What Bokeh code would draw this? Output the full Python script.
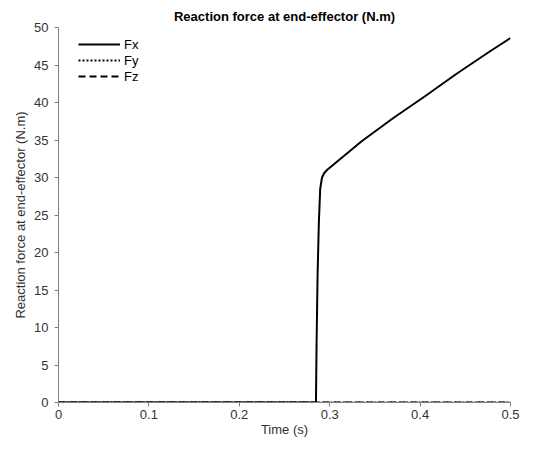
from bokeh.plotting import figure
from bokeh.models import Range1d, FixedTicker, Legend, LegendItem
from bokeh.embed import file_html
from bokeh.resources import INLINE

# Data
time_fx = [0.0, 0.2848, 0.2855, 0.2866, 0.2880, 0.2895, 0.2915, 0.2940, 0.2970,
           0.300, 0.335, 0.370, 0.405, 0.440, 0.477, 0.500]
fx = [0.0, 0.0, 8.0, 17.0, 24.0, 28.5, 30.0, 30.6, 31.0,
      31.3, 34.8, 37.9, 40.8, 43.8, 46.8, 48.6]
time_fy = [0.0, 0.5]
fy = [0.0, 0.0]
time_fz = [0.0, 0.5]
fz = [0.0, 0.0]

x_ticks = [0, 0.1, 0.2, 0.3, 0.4, 0.5]
x_tick_labels = ["0", "0.1", "0.2", "0.3", "0.4", "0.5"]
y_ticks = [0, 5, 10, 15, 20, 25, 30, 35, 40, 45, 50]

title_text = "Reaction force at end-effector (N.m)"
x_label = "Time (s)"
y_label = "Reaction force at end-effector (N.m)"

FONT = "Liberation Sans"

W, H = 541, 439
BL, BR, BT, BB = 58, 31, 27, 36

p = figure(width=W, height=H, output_backend="svg", toolbar_location=None,
           x_range=Range1d(0, 0.5), y_range=Range1d(0, 50),
           min_border_left=BL, min_border_right=BR, min_border_top=BT, min_border_bottom=BB)
p.title.text = title_text
p.title.align = "center"
p.title.text_font = FONT
p.title.text_font_size = "13px"
p.title.text_font_style = "bold"
p.title.text_color = "#000000"
p.title.standoff = 7

p.xgrid.visible = False
p.ygrid.visible = False
p.outline_line_color = None
p.background_fill_color = "white"
p.border_fill_color = "white"

for ax in (p.xaxis[0], p.yaxis[0]):
    ax.axis_line_color = "#808080"
    ax.major_tick_line_color = "#808080"
    ax.minor_tick_line_color = None
    ax.major_tick_in = 0
    ax.major_tick_out = 4
    ax.major_label_text_font = FONT
    ax.major_label_text_font_size = "13px"
    ax.major_label_text_color = "#333333"
    ax.axis_label_text_font = FONT
    ax.axis_label_text_font_size = "13px"
    ax.axis_label_text_font_style = "normal"
    ax.axis_label_text_color = "#333333"

p.xaxis.ticker = FixedTicker(ticks=x_ticks)
p.xaxis.major_label_overrides = {t: l for t, l in zip(x_ticks, x_tick_labels)}
p.xaxis.axis_label = x_label
p.xaxis.major_label_standoff = 3
p.xaxis.axis_label_standoff = 0

p.yaxis.ticker = FixedTicker(ticks=y_ticks)
p.yaxis.axis_label = y_label
p.yaxis.major_label_standoff = 6
p.yaxis.axis_label_standoff = 3

rz = p.line(time_fz, fz, line_color="black", line_width=2, line_dash="7 4")
ry = p.line(time_fy, fy, line_color="black", line_width=2, line_dash="2 2")
rx = p.line(time_fx, fx, line_color="black", line_width=2)

frame_h = H - BT - BB
row_h = 16
legend = Legend(items=[LegendItem(label="Fx", renderers=[rx]),
                       LegendItem(label="Fy", renderers=[ry]),
                       LegendItem(label="Fz", renderers=[rz])],
                location=(20, frame_h - 10 - 3 * row_h), margin=0, padding=0, spacing=0,
                glyph_width=42, glyph_height=row_h, label_height=row_h,
                label_standoff=4, border_line_color=None,
                background_fill_alpha=0,
                label_text_font=FONT, label_text_font_size="13px",
                label_text_color="#000000")
p.add_layout(legend)

open("out.html", "w").write(file_html(p, INLINE))
